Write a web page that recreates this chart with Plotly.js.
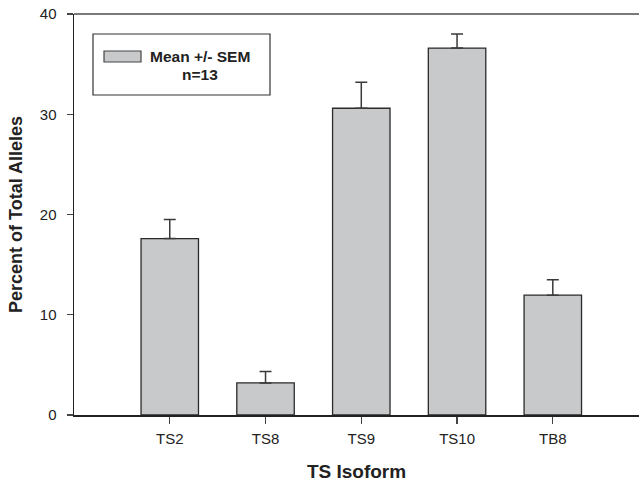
<!DOCTYPE html>
<html>
<head>
<meta charset="utf-8">
<script src="https://cdn.plot.ly/plotly-3.0.1.min.js"></script>
<style>html,body{margin:0;padding:0;background:#fff;}#chart{width:639px;height:485px;}</style>
</head>
<body>
<div id="chart"></div>
<script>
// Data
const isoforms = ["TS2", "TS8", "TS9", "TS10", "TB8"];
const meanPercent = [17.6, 3.2, 30.6, 36.6, 11.95];
const semPercent = [1.9, 1.15, 2.6, 1.4, 1.55];
const legendLine1 = "Mean +/- SEM";
const legendLine2 = "n=13";

const W = 639, H = 485;
const M = {l: 74, r: 0, t: 14, b: 70};
const pw = W - M.l - M.r, ph = H - M.t - M.b;
const px = x => (x - M.l) / pw;
const py = y => (H - M.b - y) / ph;

const FONT = "Liberation Sans, Arial, Helvetica, sans-serif";

const trace = {
  type: "bar",
  x: isoforms.map((_, i) => i),
  y: meanPercent,
  width: 0.6,
  marker: {color: "#c8c9cb", line: {color: "#2a2a2a", width: 1.3}},
  error_y: {type: "data", array: semPercent, arrayminus: semPercent.map(() => 0), symmetric: false,
            color: "#3a3a3a", thickness: 1.5, width: 6},
  showlegend: false,
  hoverinfo: "skip"
};

const layout = {
  width: W, height: H,
  margin: M,
  paper_bgcolor: "#fff", plot_bgcolor: "#fff",
  font: {family: FONT, color: "#222", size: 15},
  showlegend: false,
  xaxis: {
    range: [-1, 4.9],
    tickmode: "array",
    tickvals: isoforms.map((_, i) => i),
    ticktext: isoforms,
    ticks: "outside", ticklen: 7, tickwidth: 1.3, tickcolor: "#444",
    showline: true, linecolor: "#222", linewidth: 1.5,
    showgrid: false, zeroline: false,
    ticklabelstandoff: 2,
    tickfont: {size: 15, color: "#222", family: FONT},
    title: {text: "<b>TS Isoform</b>", font: {size: 19, color: "#222", family: FONT}, standoff: 19}
  },
  yaxis: {
    range: [0, 40],
    tickvals: [0, 10, 20, 30, 40],
    ticks: "outside", ticklen: 6, tickwidth: 1.3, tickcolor: "#444",
    showline: true, linecolor: "#222", linewidth: 1.5,
    showgrid: false, zeroline: false,
    ticklabelstandoff: 7,
    tickfont: {size: 15, color: "#222", family: FONT},
    title: {text: "<b>Percent of Total Alleles</b>", font: {size: 18, color: "#222", family: FONT}, standoff: 12}
  },
  shapes: [
    {type: "line", xref: "paper", yref: "paper", x0: 0, x1: 1, y0: 1, y1: 1,
     line: {color: "#7a7a7a", width: 1.8}},
    {type: "rect", xref: "paper", yref: "paper", x0: px(93), x1: px(270), y0: py(95), y1: py(34),
     line: {color: "#333", width: 1.2}, fillcolor: "#fff"},
    {type: "rect", xref: "paper", yref: "paper", x0: px(104), x1: px(141), y0: py(62), y1: py(51),
     line: {color: "#444", width: 1.2}, fillcolor: "#c8c9cb"}
  ],
  annotations: [
    {xref: "paper", yref: "paper", x: px(148), y: py(57), xanchor: "left", yanchor: "middle",
     text: "<b>" + legendLine1 + "</b>", showarrow: false, font: {size: 15.5, color: "#222", family: FONT}},
    {xref: "paper", yref: "paper", x: px(180), y: py(74), xanchor: "left", yanchor: "middle",
     text: "<b>" + legendLine2 + "</b>", showarrow: false, font: {size: 15.5, color: "#222", family: FONT}}
  ]
};

Plotly.newPlot("chart", [trace], layout, {displayModeBar: false, staticPlot: true});
</script>
</body>
</html>
